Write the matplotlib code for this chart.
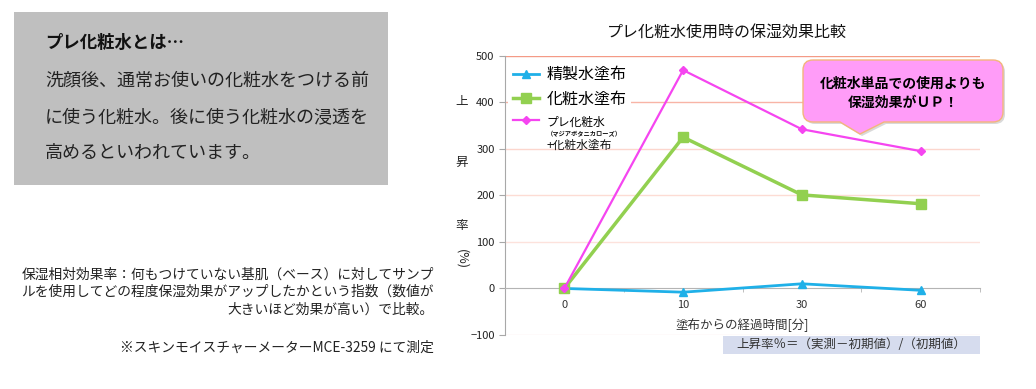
import matplotlib
matplotlib.use("Agg")
import matplotlib.pyplot as plt
from matplotlib.patches import Rectangle, PathPatch
from matplotlib.path import Path

plt.rcParams['font.family'] = ['Noto Sans CJK JP', 'DejaVu Sans']

# data
times = ['0', '10', '30', '60']
water = [0, -8, 10, -4]          # 精製水塗布
lotion = [0, 325, 201, 182]      # 化粧水塗布
pre_lotion = [0, 469, 342, 295]  # プレ化粧水 + 化粧水塗布
yticks = [-100, 0, 100, 200, 300, 400, 500]
grid_cols = {500: '#f49a86', 400: '#f8b4a6', 300: '#fcd6cd', 200: '#fddcd4',
             100: '#fde2dc', -100: '#fdeae6'}

W, H = 1036, 389
fig = plt.figure(figsize=(W / 100, H / 100), dpi=100)


def fx(x):
    return x / W


def fy(y):
    return 1 - y / H


# left explanation box
fig.patches.append(Rectangle((fx(14), fy(185)), fx(388) - fx(14), fy(12) - fy(185),
                             transform=fig.transFigure, facecolor='#bfbfbf',
                             edgecolor='none', zorder=0))
fig.text(fx(45), fy(43), 'プレ化粧水とは…', fontsize=12.5, fontweight='bold',
         color='#111111', va='center')
body = ['洗顔後、通常お使いの化粧水をつける前',
        'に使う化粧水。後に使う化粧水の浸透を',
        '高めるといわれています。']
for txt, yy in zip(body, [81, 117, 153]):
    fig.text(fx(45), fy(yy), txt, fontsize=13, color='#222222', va='center')

note = ['保湿相対効果率：何もつけていない基肌（ベース）に対してサンプ',
        'ルを使用してどの程度保湿効果がアップしたかという指数（数値が',
        '大きいほど効果が高い）で比較。']
for txt, yy in zip(note, [275, 292, 310]):
    fig.text(fx(434), fy(yy), txt, fontsize=9.9, color='#222222', va='center', ha='right')
fig.text(fx(434), fy(348), '※スキンモイスチャーメーターMCE-3259 にて測定', fontsize=9.9,
         color='#222222', va='center', ha='right')

# chart
ax = fig.add_axes([fx(505), fy(335), fx(980) - fx(505), fy(55.7) - fy(335)])
x = list(range(len(times)))
for v, c in grid_cols.items():
    ax.axhline(v, color=c, lw=1, zorder=0)
ax.plot(x, water, color='#1fb0e8', lw=2, marker='^', ms=6, label='精製水塗布', zorder=3)
ax.plot(x, lotion, color='#92d050', lw=2.5, marker='s', ms=7, label='化粧水塗布', zorder=3)
ax.plot(x, pre_lotion, color='#f545f0', lw=1.6, marker='D', ms=4,
        label='プレ化粧水', zorder=4)

ax.set_xlim(-0.5, 3.5)
ax.set_ylim(-100, 500)
ax.set_yticks(yticks)
ax.set_xticks(x)
ax.set_xticklabels(times)
ax.set_xticks([i - 0.5 for i in range(len(times) + 1)], minor=True)
for s in ['top', 'right']:
    ax.spines[s].set_visible(False)
ax.spines['bottom'].set_position(('data', 0))
ax.spines['bottom'].set_color('#b4b4b4')
ax.spines['left'].set_color('#a8a8a8')
ax.tick_params(axis='x', which='major', length=0, pad=8, labelsize=8, labelcolor='#333333')
ax.tick_params(axis='x', which='minor', length=3, color='#b4b4b4', direction='out')
ax.tick_params(axis='y', length=4, color='#a8a8a8', labelsize=8, labelcolor='#222222')

leg = ax.legend(loc='upper left', bbox_to_anchor=(0.0, 0.99), fontsize=11.5,
                frameon=True, facecolor='white', edgecolor='none', framealpha=1,
                handlelength=1.6, handletextpad=0.5, labelspacing=0.45,
                borderpad=0.3, borderaxespad=0.2)
leg.set_zorder(5)
t3 = leg.get_texts()[2]
t3.set_fontsize(8.5)

fig.text(fx(727), fy(32), 'プレ化粧水使用時の保湿効果比較', fontsize=11.5, color='#111111',
         ha='center', va='center')
fig.text(fx(742), fy(325), '塗布からの経過時間[分]', fontsize=9, color='#333333',
         ha='center', va='center')
for ch, yy in zip(['上', '昇', '率'], [102, 162, 225]):
    fig.text(fx(462), fy(yy), ch, fontsize=9, color='#222222', ha='center', va='center')
fig.text(fx(462), fy(259), '(%)', fontsize=9, color='#222222', ha='center', va='center',
         rotation=-90)

# formula box
fig.patches.append(Rectangle((fx(723), fy(354)), fx(980) - fx(723), fy(336) - fy(354),
                             transform=fig.transFigure, facecolor='#d6dcee',
                             edgecolor='none', zorder=0))
fig.text(fx(851), fy(345), '上昇率％＝（実測－初期値）/（初期値）', fontsize=9,
         color='#333333', ha='center', va='center')

# callout balloon
L, R, T, B, r = 803, 1003, 60, 122, 10
tip = (860, 134)
pts = [(L + r, T), (R - r, T), (R, T), (R, T + r), (R, B - r), (R, B), (R - r, B),
       (884, B), tip, (840, B), (L + r, B), (L, B), (L, B - r), (L, T + r), (L, T),
       (L + r, T)]
codes = [Path.MOVETO, Path.LINETO, Path.CURVE3, Path.CURVE3, Path.LINETO, Path.CURVE3,
         Path.CURVE3, Path.LINETO, Path.LINETO, Path.LINETO, Path.LINETO, Path.CURVE3,
         Path.CURVE3, Path.LINETO, Path.CURVE3, Path.CURVE3]
shadow = Path([(fx(px + 2), fy(py + 2)) for px, py in pts], codes)
fig.patches.append(PathPatch(shadow, transform=fig.transFigure, facecolor='#d9d9d9',
                             edgecolor='none', zorder=6))
balloon = Path([(fx(px), fy(py)) for px, py in pts], codes)
fig.patches.append(PathPatch(balloon, transform=fig.transFigure, facecolor='#ff9cf8',
                             edgecolor='#f3b57c', lw=1, zorder=7))
fig.text(fx(903), fy(84), '化粧水単品での使用よりも', fontsize=10, fontweight='bold',
         ha='center', va='center', zorder=8)
fig.text(fx(903), fy(103), '保湿効果がＵＰ！', fontsize=10, fontweight='bold',
         ha='center', va='center', zorder=8)

# the rest of the third legend label, placed under its first line
fig.canvas.draw()
bb = t3.get_window_extent(fig.canvas.get_renderer())
x0 = bb.x0 / W
ymid = (bb.y0 + bb.y1) / 2
fig.text(x0, (ymid - 11) / H, '（マジアボタニカローズ）', fontsize=4.5,
         fontweight='bold', color='#111111', va='center', zorder=8)
fig.text(x0, (ymid - 23) / H, '+化粧水塗布', fontsize=8.5, color='#111111',
         va='center', zorder=8)

fig.savefig('out.png', dpi=100)
